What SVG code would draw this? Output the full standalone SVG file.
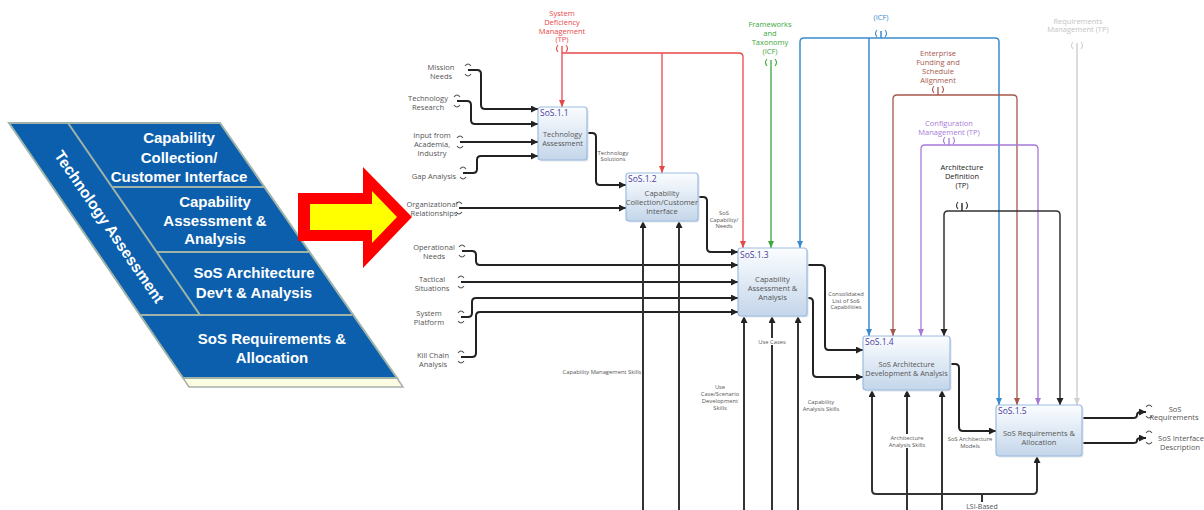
<svg xmlns="http://www.w3.org/2000/svg" width="1204" height="510" viewBox="0 0 1204 510">
<style>
.pt{font-family:"Liberation Sans",Arial,sans-serif;font-weight:bold;font-size:15px;fill:#fff;text-anchor:middle}
.lbl{font-family:"Open Sans","DejaVu Sans",sans-serif;font-size:7.5px;fill:#555;text-anchor:middle}
.sm{font-size:5.8px}
.bx{font-family:"Open Sans","DejaVu Sans",sans-serif;font-size:7.6px;fill:#555;text-anchor:middle}
.id{font-family:"Open Sans","DejaVu Sans",sans-serif;font-size:8.5px;fill:#4b3c9e}
.box{fill:url(#bg);stroke:#9dbbe0;stroke-width:1.2}
.sh{fill:#dfe4ea}
.blk{fill:none;stroke:#222;stroke-width:2}
.mech{fill:none;stroke:#333;stroke-width:2}
.tn{fill:none;stroke-width:1.1}
</style>
<defs>
<linearGradient id="bg" x1="0" y1="0" x2="0" y2="1">
<stop offset="0" stop-color="#fbfdff"/>
<stop offset="1" stop-color="#c4d6ea"/>
</linearGradient>
<marker id="ak" markerUnits="userSpaceOnUse" markerWidth="8" markerHeight="8" refX="7" refY="3.5" orient="auto"><path d="M0,0L7,3.5L0,7z" fill="#222"/></marker>
<marker id="ar" markerUnits="userSpaceOnUse" markerWidth="8" markerHeight="8" refX="7" refY="3" orient="auto"><path d="M0,0L7,3L0,6z" fill="#e8474a"/></marker>
<marker id="ag" markerUnits="userSpaceOnUse" markerWidth="8" markerHeight="8" refX="7" refY="3" orient="auto"><path d="M0,0L7,3L0,6z" fill="#3aa83a"/></marker>
<marker id="ab" markerUnits="userSpaceOnUse" markerWidth="8" markerHeight="8" refX="7" refY="3" orient="auto"><path d="M0,0L7,3L0,6z" fill="#3a8ad0"/></marker>
<marker id="an" markerUnits="userSpaceOnUse" markerWidth="8" markerHeight="8" refX="7" refY="3" orient="auto"><path d="M0,0L7,3L0,6z" fill="#a5574c"/></marker>
<marker id="ap" markerUnits="userSpaceOnUse" markerWidth="8" markerHeight="8" refX="7" refY="3" orient="auto"><path d="M0,0L7,3L0,6z" fill="#a77ad8"/></marker>
<marker id="ay" markerUnits="userSpaceOnUse" markerWidth="8" markerHeight="8" refX="7" refY="3" orient="auto"><path d="M0,0L7,3L0,6z" fill="#d0d0d0"/></marker>
</defs>
<rect width="1204" height="510" fill="#fff"/>

<!-- Left panel -->
<g id="panel">
<polygon points="183,378 397,378 403,387 189,387" fill="#fcfce2" stroke="#a8b0a8" stroke-width="1.5"/>
<polygon points="9,123 220,123 397,378 183,378" fill="#0b5fad" stroke="#9fb3a8" stroke-width="2"/>
<line x1="68" y1="123" x2="200" y2="315" stroke="#9fb3a8" stroke-width="2"/>
<line x1="112" y1="187" x2="264" y2="187" stroke="#9fb3a8" stroke-width="2"/>
<line x1="157" y1="252" x2="309" y2="252" stroke="#9fb3a8" stroke-width="2"/>
<line x1="140" y1="315" x2="352" y2="315" stroke="#9fb3a8" stroke-width="2"/>
<text class="pt" style="font-size:15.5px" transform="translate(109,227) rotate(55.5)" x="0" y="5">Technology Assessment</text>
<text class="pt"><tspan x="179" y="143">Capability</tspan><tspan x="179" y="163">Collection/</tspan><tspan x="179" y="182">Customer Interface</tspan></text>
<text class="pt"><tspan x="215" y="207">Capability</tspan><tspan x="215" y="226">Assessment &amp;</tspan><tspan x="215" y="244">Analysis</tspan></text>
<text class="pt"><tspan x="254" y="278">SoS Architecture</tspan><tspan x="254" y="298">Dev't &amp; Analysis</tspan></text>
<text class="pt"><tspan x="272" y="344">SoS Requirements &amp;</tspan><tspan x="272" y="363">Allocation</tspan></text>
</g>

<g id="bigarrow">
<polygon points="298,193 363,193 363,167 412,217 363,268 363,241 298,241" fill="#ff0000"/>
<polygon points="310,204 372,204 372,191 397,217 372,243 372,230 310,230" fill="#ffff00"/>
</g>

<!-- Connectors -->
<g id="connectors">
<g stroke="#e8474a" stroke-width="1.3" fill="none">
<path class="tn" d="M558,45Q555,48.5 558,52M566,45Q569,48.5 566,52"/>
<path d="M562,46V107" marker-end="url(#ar)"/>
<path d="M562,53H739Q743,53 743,57V248" marker-end="url(#ar)"/>
<path d="M662,53V173" marker-end="url(#ar)"/>
</g>
<g stroke="#3aa83a" stroke-width="1.3" fill="none">
<path class="tn" d="M767,59Q764,62.5 767,66M775,59Q778,62.5 775,66"/>
<path d="M771,60V248" marker-end="url(#ag)"/>
</g>
<g stroke="#3a8ad0" stroke-width="1.5" fill="none">
<path class="tn" d="M877,30Q874,33.5 877,37M885,30Q888,33.5 885,37"/>
<path d="M881,31V38"/>
<path d="M881,38H995Q999,38 999,42V405" marker-end="url(#ab)"/>
<path d="M881,38H804Q800,38 800,42V248" marker-end="url(#ab)"/>
<path d="M869,38V336" marker-end="url(#ab)"/>
</g>
<g stroke="#a5574c" stroke-width="1.3" fill="none">
<path class="tn" d="M934,86Q931,89.5 934,93M942,86Q945,89.5 942,93"/>
<path d="M938,87V95"/>
<path d="M938,95H897Q893,95 893,99V336" marker-end="url(#an)"/>
<path d="M938,95H1013Q1017,95 1017,99V405" marker-end="url(#an)"/>
</g>
<g stroke="#a77ad8" stroke-width="1.3" fill="none">
<path class="tn" d="M945,137Q942,140.5 945,144M953,137Q956,140.5 953,144"/>
<path d="M949,138V145"/>
<path d="M949,145H925Q921,145 921,149V336" marker-end="url(#ap)"/>
<path d="M949,145H1034Q1038,145 1038,149V405" marker-end="url(#ap)"/>
</g>
<g stroke="#333" stroke-width="1.5" fill="none">
<path class="tn" d="M958,202Q955,205.5 958,209M966,202Q969,205.5 966,209"/>
<path d="M962,203V211"/>
<path d="M962,211H948Q944,211 944,215V336" marker-end="url(#ak)"/>
<path d="M962,211H1056Q1060,211 1060,215V405" marker-end="url(#ak)"/>
</g>
<g stroke="#d0d0d0" stroke-width="1.5" fill="none">
<path class="tn" d="M1073,42Q1070,45.5 1073,49M1081,42Q1084,45.5 1081,49"/>
<path d="M1077,43V405" marker-end="url(#ay)"/>
</g>

<g class="blk">
<path class="tn" stroke="#555" d="M465,66Q468,62 471,66M465,74Q468,78 471,74M454,97Q457,93 460,97M454,105Q457,109 460,105M457,138Q460,134 463,138M457,146Q460,150 463,146M460,169Q463,165 466,169M460,177Q463,181 466,177M456,204Q459,200 462,204M456,212Q459,216 462,212M459,247Q462,243 465,247M459,255Q462,259 465,255M458,278Q461,274 464,278M458,286Q461,290 464,286M458,313Q461,309 464,313M458,321Q461,325 464,321M458,353Q461,349 464,353M458,361Q461,365 464,361"/>
<path d="M468,70H477Q481,70 481,74V105Q481,109 485,109H538" marker-end="url(#ak)"/>
<path d="M457,101H467Q471,101 471,105V120Q471,124 475,124H538" marker-end="url(#ak)"/>
<path d="M460,142H538" marker-end="url(#ak)"/>
<path d="M463,173H473Q477,173 477,169V160Q477,156 481,156H538" marker-end="url(#ak)"/>
<path d="M459,208H626" marker-end="url(#ak)"/>
<path d="M587,133H592Q596,133 596,137V181Q596,185 600,185H626" marker-end="url(#ak)"/>
<path d="M698,197H703Q707,197 707,201V248Q707,252 711,252H738" marker-end="url(#ak)"/>
<path d="M462,251H472Q476,251 476,255V261Q476,265 480,265H738" marker-end="url(#ak)"/>
<path d="M461,282H738" marker-end="url(#ak)"/>
<path d="M461,317H468Q472,317 472,313V302Q472,298 476,298H738" marker-end="url(#ak)"/>
<path d="M461,357H472Q476,357 476,353V316Q476,312 480,312H738" marker-end="url(#ak)"/>
<path d="M807,265H821Q825,265 825,269V346Q825,350 829,350H863" marker-end="url(#ak)"/>
<path d="M807,298H809Q813,298 813,302V373Q813,377 817,377H863" marker-end="url(#ak)"/>
<path d="M950,364H955Q959,364 959,368V427Q959,431 963,431H996" marker-end="url(#ak)"/>
<path d="M1082,418H1133Q1137,418 1137,415Q1137,412 1141,412H1146" marker-end="url(#ak)"/>
<path d="M1082,443H1133Q1137,443 1137,440.5Q1137,438 1141,438H1146" marker-end="url(#ak)"/>
<path class="tn" stroke="#555" d="M1146,407Q1149,403 1152,407M1146,416Q1149,420 1152,416M1146,433Q1149,429 1152,433M1146,442Q1149,446 1152,442"/>
</g>

<g class="mech">
<path d="M643,510V221" marker-end="url(#ak)"/>
<path d="M679,510V221" marker-end="url(#ak)"/>
<path d="M744,510V316" marker-end="url(#ak)"/>
<path d="M772,510V316" marker-end="url(#ak)"/>
<path d="M798,510V316" marker-end="url(#ak)"/>
<path d="M907,510V390" marker-end="url(#ak)"/>
<path d="M942,510V390" marker-end="url(#ak)"/>
<path d="M982,502V494"/>
<path d="M982,494H876Q872,494 872,490V390" marker-end="url(#ak)"/>
<path d="M982,494H1033Q1037,494 1037,490V456" marker-end="url(#ak)"/>
</g>
</g>

<!-- Nodes -->
<g id="n11">
<rect class="sh" x="539.5" y="108.5" width="49" height="53" rx="3"/>
<rect class="box" x="538" y="107" width="49" height="53" rx="3"/>
<text class="id" x="540" y="116">SoS.1.1</text>
<text class="bx" style="font-size:7.3px"><tspan x="562.5" y="137">Technology</tspan><tspan x="562.5" y="146">Assessment</tspan></text>
</g>
<g id="n12">
<rect class="sh" x="627.5" y="174.5" width="72" height="48" rx="3"/>
<rect class="box" x="626" y="173" width="72" height="48" rx="3"/>
<text class="id" x="628" y="182">SoS.1.2</text>
<text class="bx"><tspan x="662" y="196">Capability</tspan><tspan x="662" y="205">Collection/Customer</tspan><tspan x="662" y="214">Interface</tspan></text>
</g>
<g id="n13">
<rect class="sh" x="739.5" y="249.5" width="69" height="68" rx="3"/>
<rect class="box" x="738" y="248" width="69" height="68" rx="3"/>
<text class="id" x="740" y="258">SoS.1.3</text>
<text class="bx"><tspan x="772.5" y="282">Capability</tspan><tspan x="772.5" y="291">Assessment &amp;</tspan><tspan x="772.5" y="300">Analysis</tspan></text>
</g>
<g id="n14">
<rect class="sh" x="864.5" y="337.5" width="87" height="54" rx="3"/>
<rect class="box" x="863" y="336" width="87" height="54" rx="3"/>
<text class="id" x="865" y="345">SoS.1.4</text>
<text class="bx" style="font-size:7.3px"><tspan x="906.5" y="367">SoS Architecture</tspan><tspan x="906.5" y="376">Development &amp; Analysis</tspan></text>
</g>
<g id="n15">
<rect class="sh" x="997.5" y="406.5" width="86" height="51" rx="3"/>
<rect class="box" x="996" y="405" width="86" height="51" rx="3"/>
<text class="id" x="998" y="414">SoS.1.5</text>
<text class="bx"><tspan x="1039" y="436">SoS Requirements &amp;</tspan><tspan x="1039" y="445">Allocation</tspan></text>
</g>

<!-- Labels -->
<g id="labels">
<text class="lbl" style="fill:#e8474a"><tspan x="562" y="15.5">System</tspan><tspan x="562" y="24.5">Deficiency</tspan><tspan x="562" y="33.5">Management</tspan><tspan x="562" y="41.5">(TP)</tspan></text>
<text class="lbl" style="fill:#3aa83a"><tspan x="770" y="27">Frameworks</tspan><tspan x="770" y="36">and</tspan><tspan x="770" y="45">Taxonomy</tspan><tspan x="770" y="54">(ICF)</tspan></text>
<text class="lbl" style="fill:#3a8ad0" x="881" y="19.5">(ICF)</text>
<text class="lbl" style="fill:#a5574c"><tspan x="938" y="56">Enterprise</tspan><tspan x="938" y="65">Funding and</tspan><tspan x="938" y="74">Schedule</tspan><tspan x="938" y="83">Alignment</tspan></text>
<text class="lbl" style="fill:#a77ad8"><tspan x="949" y="126">Configuration</tspan><tspan x="949" y="135">Management (TP)</tspan></text>
<text class="lbl" style="fill:#222"><tspan x="962" y="170">Architecture</tspan><tspan x="962" y="179">Definition</tspan><tspan x="962" y="188">(TP)</tspan></text>
<text class="lbl" style="fill:#c4c4c4"><tspan x="1078" y="24">Requirements</tspan><tspan x="1078" y="32">Management (TP)</tspan></text>

<text class="lbl"><tspan x="441" y="69.5">Mission</tspan><tspan x="441" y="78.5">Needs</tspan></text>
<text class="lbl"><tspan x="428" y="100.5">Technology</tspan><tspan x="428" y="109.5">Research</tspan></text>
<text class="lbl"><tspan x="432" y="137.5">Input from</tspan><tspan x="432" y="146.5">Academia,</tspan><tspan x="432" y="155.5">Industry</tspan></text>
<text class="lbl" x="434" y="178.5">Gap Analysis</text>
<text class="lbl"><tspan x="432" y="206.5">Organizational</tspan><tspan x="434" y="215.5">Relationships</tspan></text>
<text class="lbl"><tspan x="434" y="249.5">Operational</tspan><tspan x="434" y="258.5">Needs</tspan></text>
<text class="lbl"><tspan x="432" y="281.5">Tactical</tspan><tspan x="432" y="290.5">Situations</tspan></text>
<text class="lbl"><tspan x="429" y="315.5">System</tspan><tspan x="429" y="324.5">Platform</tspan></text>
<text class="lbl"><tspan x="433" y="357.5">Kill Chain</tspan><tspan x="433" y="366.5">Analysis</tspan></text>

<text class="lbl sm"><tspan x="613" y="155">Technology</tspan><tspan x="613" y="161">Solutions</tspan></text>
<text class="lbl sm"><tspan x="724" y="215">SoS</tspan><tspan x="724" y="221.5">Capability/</tspan><tspan x="724" y="228">Needs</tspan></text>
<text class="lbl sm"><tspan x="846" y="296">Consolidated</tspan><tspan x="846" y="302.5">List of SoS</tspan><tspan x="846" y="309">Capabilities</tspan></text>
<text class="lbl sm" x="602" y="374">Capability Management Skills</text>
<text class="lbl sm"><tspan x="720" y="389">Use</tspan><tspan x="720" y="396">Case/Scenario</tspan><tspan x="720" y="403">Development</tspan><tspan x="720" y="410">Skills</tspan></text>
<rect x="760" y="338" width="24" height="7" fill="#fff"/>
<text class="lbl sm" x="772" y="344">Use Cases</text>
<text class="lbl sm"><tspan x="821" y="404">Capability</tspan><tspan x="821" y="411">Analysis Skills</tspan></text>
<rect x="891" y="434" width="32" height="14" fill="#fff"/>
<text class="lbl sm"><tspan x="907" y="440">Architecture</tspan><tspan x="907" y="447">Analysis Skills</tspan></text>
<text class="lbl sm"><tspan x="970" y="441">SoS Architecture</tspan><tspan x="970" y="448">Models</tspan></text>
<text class="lbl" style="font-size:7px" x="982" y="508.5">LSI-Based</text>

<text class="lbl"><tspan x="1175" y="411.5">SoS</tspan><tspan x="1174" y="419.5">Requirements</tspan></text>
<text class="lbl"><tspan x="1181" y="440.5">SoS Interface</tspan><tspan x="1180" y="449.5">Description</tspan></text>
</g>
</svg>
